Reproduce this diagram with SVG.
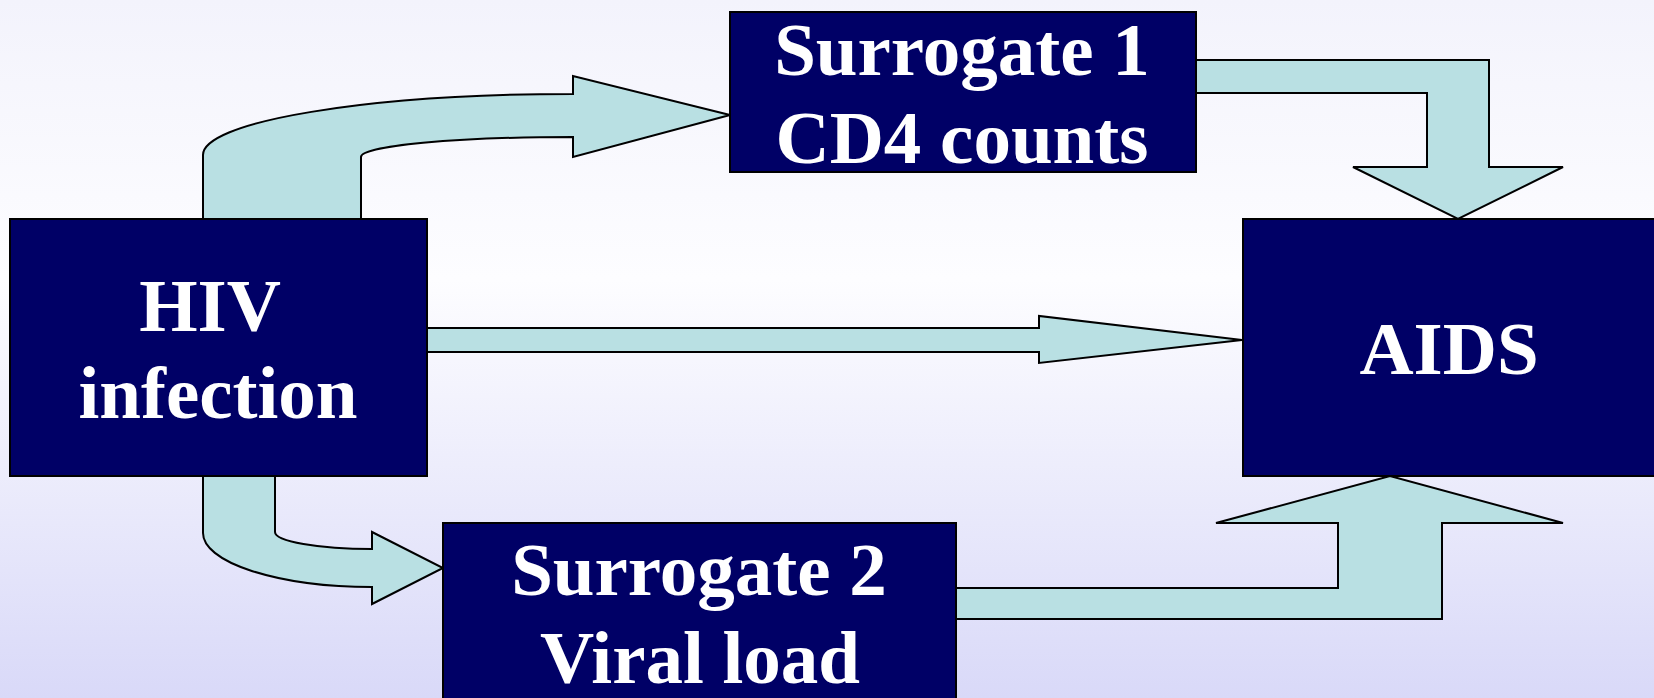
<svg xmlns="http://www.w3.org/2000/svg" width="1654" height="698" viewBox="0 0 1654 698">
  <defs>
    <linearGradient id="bg" x1="0" y1="0" x2="0" y2="1">
      <stop offset="0" stop-color="#f3f3fc"/>
      <stop offset="0.4" stop-color="#fdfdff"/>
      <stop offset="1" stop-color="#d9d9f8"/>
    </linearGradient>
  </defs>
  <style>
    .box { fill: #000066; stroke: #000000; stroke-width: 2; }
    .arrow { fill: #b9e0e3; stroke: #000000; stroke-width: 2; stroke-linejoin: miter; }
    .lbl { font-family: "Liberation Serif", "Times New Roman", serif; font-weight: bold; font-size: 75px; fill: #ffffff; text-anchor: middle; }
  </style>
  <rect x="0" y="0" width="1654" height="698" fill="url(#bg)"/>
  <g id="connectors">
    <path class="arrow" d="M203,220 L203,155 A370,61 0 0 1 573,94 L573,76 L730,115 L573,157 L573,137 A212,20 0 0 0 361,157 L361,220 Z"/>
    <path class="arrow" d="M1195,60 L1489,60 L1489,167 L1563,167 L1458,219 L1353,167 L1427,167 L1427,93 L1195,93 Z"/>
    <path class="arrow" d="M427,328 L1039,328 L1039,316 L1242,340 L1039,363 L1039,352 L427,352 Z"/>
    <path class="arrow" d="M203,476 L203,533 A169,54 0 0 0 372,587 L372,604 L443,568 L372,532 L372,549 A97,17 0 0 1 275,532 L275,476 Z"/>
    <path class="arrow" d="M956,588 L1338,588 L1338,523 L1216,523 L1390,476 L1563,523 L1442,523 L1442,619 L956,619 Z"/>
  </g>
  <g id="hiv">
    <rect class="box" x="10" y="219" width="417" height="257"/>
    <text class="lbl" x="210" y="331">HIV</text>
    <text class="lbl" x="218" y="418">infection</text>
  </g>
  <g id="surrogate1">
    <rect class="box" x="730" y="12" width="466" height="160"/>
    <text class="lbl" x="962" y="75">Surrogate 1</text>
    <text class="lbl" x="962" y="163">CD4 counts</text>
  </g>
  <g id="aids">
    <rect class="box" x="1243" y="219" width="420" height="257"/>
    <text class="lbl" x="1449" y="374">AIDS</text>
  </g>
  <g id="surrogate2">
    <rect class="box" x="443" y="523" width="513" height="185"/>
    <text class="lbl" x="699" y="595">Surrogate 2</text>
    <text class="lbl" x="700" y="683">Viral load</text>
  </g>
</svg>
